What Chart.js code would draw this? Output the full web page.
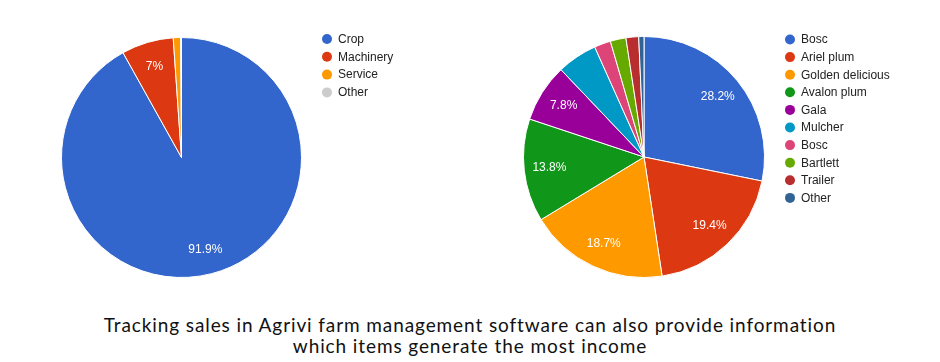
<!DOCTYPE html>
<html>
<head>
<meta charset="utf-8">
<script src="https://cdn.jsdelivr.net/npm/chart.js@4"></script>
<style>
  body { margin: 0; background: #fff; width: 940px; height: 362px; position: relative; overflow: hidden; }
  .box { position: absolute; top: 0; width: 470px; height: 300px; }
  #caption {
    position: absolute; left: 0; top: 314px; width: 940px; text-align: center;
    font-family: Lato, sans-serif; font-size: 19px; letter-spacing: 0.9px; line-height: 21px; color: #111;
  }
</style>
</head>
<body>
<div class="box" style="left:0"><canvas id="incomeChart"></canvas></div>
<div class="box" style="left:470px"><canvas id="itemsChart"></canvas></div>
<div id="caption">Tracking sales in Agrivi farm management software can also provide information<br>which items generate the most income</div>

<script>
'use strict';

// left pie: income by source (%)
const sourceLabels = ['Crop', 'Machinery', 'Service', 'Other'];
const sourceValues = [91.9, 7, 1.0, 0.1];
const sourceColors = ['#3366cc', '#dc3912', '#ff9900', '#cccccc'];

// right pie: income by item (%)
const itemLabels = ['Bosc', 'Ariel plum', 'Golden delicious', 'Avalon plum', 'Gala',
  'Mulcher', 'Bosc', 'Bartlett', 'Trailer', 'Other'];
const itemValues = [28.2, 19.4, 18.7, 13.8, 7.8, 5.4, 2.2, 2.1, 1.7, 0.7];
const itemColors = ['#3366cc', '#dc3912', '#ff9900', '#109618', '#990099',
  '#0099c6', '#dd4477', '#66aa00', '#b82e2e', '#316395'];

// percentage text inside the bigger slices
const sliceLabels = {
  id: 'sliceLabels',
  afterDatasetsDraw(chart) {
    let ctx = chart.ctx;
    let data = chart.data.datasets[0].data;
    ctx.save();
    ctx.font = '12px Arial, "Liberation Sans", sans-serif';
    ctx.fillStyle = '#fff';
    ctx.textAlign = 'center';
    ctx.textBaseline = 'middle';
    chart.getDatasetMeta(0).data.forEach((arc, i) => {
      if (data[i] < 6) return;
      let mid = (arc.startAngle + arc.endAngle) / 2;
      let r = arc.outerRadius * 0.79;
      ctx.fillText(Number(data[i].toFixed(1)) + '%', arc.x + Math.cos(mid) * r, arc.y + Math.sin(mid) * r);
    });
    ctx.restore();
  }
};

// google-style legend with round markers
const dotLegend = {
  id: 'dotLegend',
  afterDraw(chart, args, opts) {
    let ctx = chart.ctx;
    let colors = chart.data.datasets[0].backgroundColor;
    ctx.save();
    ctx.font = '12px Arial, "Liberation Sans", sans-serif';
    ctx.textBaseline = 'middle';
    chart.data.labels.forEach((label, i) => {
      let y = opts.y + i * opts.step;
      ctx.fillStyle = colors[i];
      ctx.beginPath();
      ctx.arc(opts.x, y, 5, 0, Math.PI * 2);
      ctx.fill();
      ctx.fillStyle = '#222';
      ctx.fillText(label, opts.x + 11, y + 0.5);
    });
    ctx.restore();
  }
};

function makePie(id, labels, values, colors, padding, legendPos) {
  let ctx = document.getElementById(id).getContext('2d');
  return new Chart(ctx, {
    type: 'pie',
    data: {
      labels: labels,
      datasets: [{
        data: values,
        backgroundColor: colors,
        borderColor: '#fff',
        borderWidth: 1
      }]
    },
    options: {
      responsive: true,
      maintainAspectRatio: false,
      animation: false,
      layout: { padding: padding },
      plugins: {
        legend: { display: false },
        tooltip: { enabled: false },
        dotLegend: legendPos
      }
    },
    plugins: [sliceLabels, dotLegend]
  });
}

makePie('incomeChart', sourceLabels, sourceValues, sourceColors,
  { left: 61, right: 168, top: 37, bottom: 22 }, { x: 327, y: 39, step: 17.8 });
makePie('itemsChart', itemLabels, itemValues, itemColors,
  { left: 53, right: 175, top: 36, bottom: 22 }, { x: 320, y: 39.5, step: 17.6 });
</script>
</body>
</html>
